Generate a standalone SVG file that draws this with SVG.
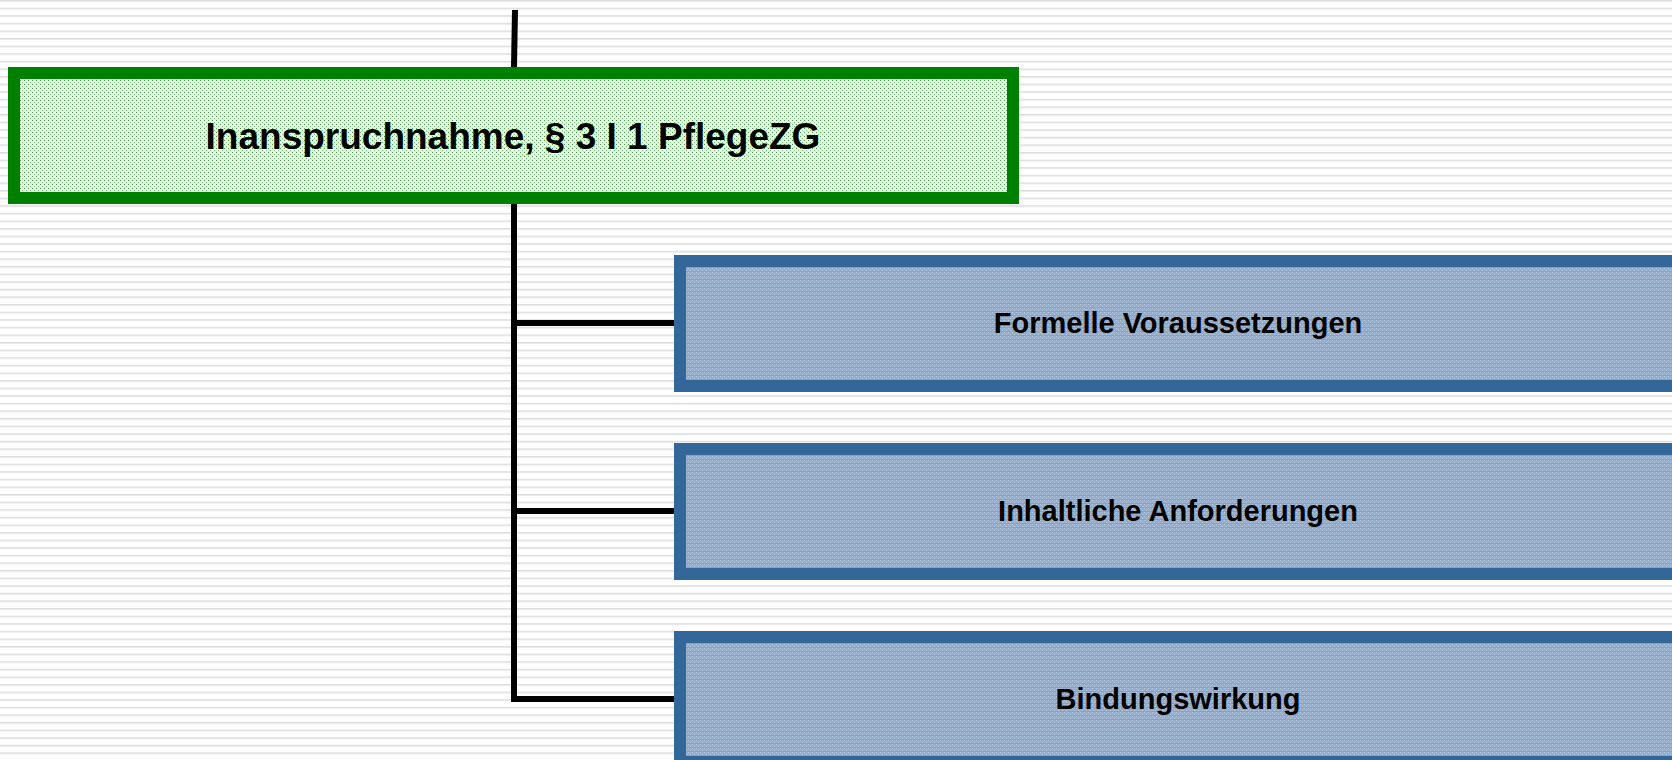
<svg xmlns="http://www.w3.org/2000/svg" width="1672" height="760" viewBox="0 0 1672 760">
<defs>
<pattern id="stripes" width="16" height="7.6" patternUnits="userSpaceOnUse">
<rect width="16" height="7.6" fill="#ffffff"/>
<rect y="0" width="16" height="1" fill="#dedede"/>
<rect y="1" width="16" height="1" fill="#e9e9e9"/>
</pattern>
<pattern id="greenfill" width="4" height="4" patternUnits="userSpaceOnUse">
<rect width="4" height="4" fill="#f2f9f2"/>
<rect x="0" y="0" width="1" height="1" fill="#3fa83f"/>
<rect x="2" y="2" width="1" height="1" fill="#7fc87f"/>
<rect x="0" y="3" width="4" height="1" fill="#e4efe4"/>
</pattern>
<pattern id="bluefill" width="4" height="4" patternUnits="userSpaceOnUse">
<rect width="4" height="4" fill="#97afcc"/>
<rect x="0" y="0" width="1" height="1" fill="#b4c8e0"/>
<rect x="2" y="2" width="1" height="1" fill="#b4c8e0"/>
<rect x="0" y="3" width="4" height="1" fill="#8aa2c0"/>
</pattern>
<style>
.conn{fill:none;stroke:#000000;stroke-width:6;stroke-linejoin:miter;stroke-linecap:butt}
.green{fill:url(#greenfill);stroke:#008000;stroke-width:12}
.blue{fill:url(#bluefill);stroke:#336699;stroke-width:12}
.t1{font-family:"Liberation Sans",Arial,sans-serif;font-weight:bold;font-size:37px;fill:#000;text-anchor:middle}
.t2{font-family:"Liberation Sans",Arial,sans-serif;font-weight:bold;font-size:29px;fill:#000;text-anchor:middle}
</style>
</defs>
<rect width="1672" height="760" fill="url(#stripes)"/>
<g id="connectors">
<path class="conn" d="M515,10 L514,67"/>
<path class="conn" d="M514,204 V699 H674"/>
<path class="conn" d="M514,323 H674"/>
<path class="conn" d="M514,511 H674"/>
</g>
<g id="node-root">
<rect class="green" x="14" y="73" width="999" height="125"/>
<text class="t1" x="513" y="149">Inanspruchnahme, § 3 I 1 PflegeZG</text>
</g>
<g id="node-formell">
<rect class="blue" x="680" y="261" width="1020" height="125"/>
<text class="t2" x="1178" y="333">Formelle Voraussetzungen</text>
</g>
<g id="node-inhalt">
<rect class="blue" x="680" y="449" width="1020" height="125"/>
<text class="t2" x="1178" y="521">Inhaltliche Anforderungen</text>
</g>
<g id="node-bindung">
<rect class="blue" x="680" y="637" width="1020" height="125"/>
<text class="t2" x="1178" y="709">Bindungswirkung</text>
</g>
</svg>
